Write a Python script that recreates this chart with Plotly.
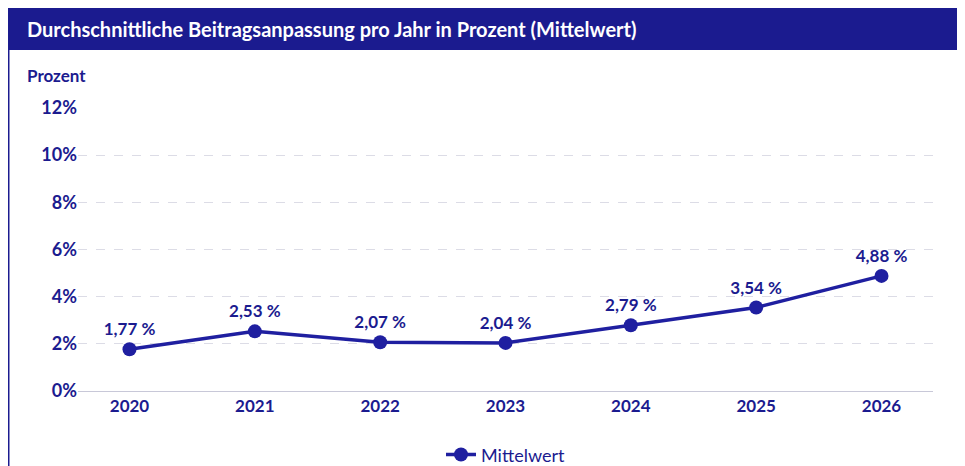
import plotly.graph_objects as go

years = ["2020", "2021", "2022", "2023", "2024", "2025", "2026"]
values = [1.77, 2.53, 2.07, 2.04, 2.79, 3.54, 4.88]
labels = ["1,77 %", "2,53 %", "2,07 %", "2,04 %", "2,79 %", "3,54 %", "4,88 %"]
yticks = [0, 2, 4, 6, 8, 10, 12]
yticklabels = ["<b>0%</b>", "<b>2%</b>", "<b>4%</b>", "<b>6%</b>", "<b>8%</b>", "<b>10%</b>", "<b>12%</b>"]

navy = "#1b1b8f"
line_col = "#1f1fa0"

fig = go.Figure()
fig.add_trace(go.Scatter(
    x=years, y=values, mode="lines+markers+text", name="Mittelwert",
    text=labels, texttemplate="<b>%{text}</b>", textposition="top center",
    textfont=dict(size=17, color=navy, family="Lato"),
    line=dict(color=line_col, width=3.5),
    marker=dict(size=14, color=line_col),
))

fig.update_layout(
    width=965, height=466,
    margin=dict(l=70, r=40, t=100, b=83, autoexpand=False),
    paper_bgcolor="white", plot_bgcolor="white",
    font=dict(family="Lato", color=navy, size=16),
    showlegend=True,
    legend=dict(orientation="h", x=0.5, xanchor="center", y=-0.16, yanchor="top",
                bgcolor="rgba(0,0,0,0)", font=dict(size=18, color=navy)),
    xaxis=dict(showgrid=False, showline=True, linecolor="#c8c8d8",
               tickprefix="<b>", ticksuffix="</b>",
               tickfont=dict(size=17, color=navy, family="Lato"), ticks=""),
    yaxis=dict(range=[0, 12], tickvals=yticks, ticktext=yticklabels,
               showgrid=True, gridcolor="#dcdce6", griddash="dash",
               zeroline=False, tickfont=dict(size=18, color=navy, family="Lato")),
    shapes=[
        dict(type="rect", xref="paper", yref="paper", x0=-0.082, x1=1.047,
             y0=1.205, y1=1.36, fillcolor=navy, line=dict(width=0), layer="below"),
        dict(type="rect", xref="paper", yref="paper", x0=-0.081, x1=1.046,
             y0=-0.29, y1=1.36, fillcolor="rgba(0,0,0,0)", line=dict(width=1.5, color=navy)),
    ],
    annotations=[
        dict(text="<b>Durchschnittliche Beitragsanpassung pro Jahr in Prozent (Mittelwert)</b>",
             xref="paper", yref="paper", x=-0.062, y=1.28, xanchor="left", yanchor="middle",
             showarrow=False, font=dict(size=20, color="white", family="Lato")),
        dict(text="<b>Prozent</b>", xref="paper", yref="paper", x=-0.062, y=1.115,
             xanchor="left", yanchor="middle", showarrow=False,
             font=dict(size=17, color=navy, family="Lato")),
    ],
)

fig.write_html("out.html")
